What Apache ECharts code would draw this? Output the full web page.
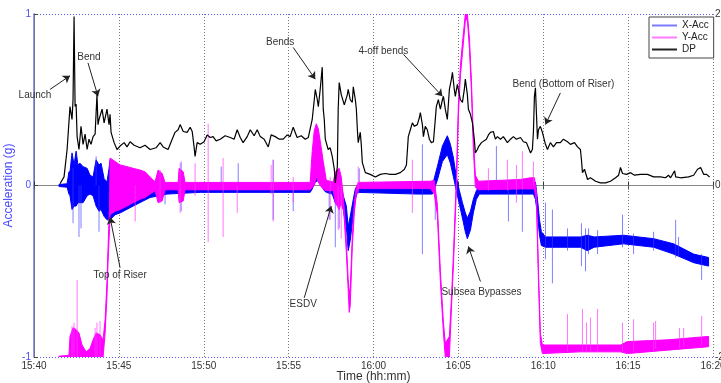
<!DOCTYPE html>
<html>
<head>
<meta charset="utf-8">
<script src="https://cdn.jsdelivr.net/npm/echarts@6/dist/echarts.min.js"></script>
<style>
  html, body { margin: 0; padding: 0; background: #fff; }
  #chart { width: 721px; height: 383px; }
</style>
</head>
<body>
<div id="chart"></div>
<script>
// time is minutes after 15:40
const tickLabels = ['15:40', '15:45', '15:50', '15:55', '16:00', '16:05', '16:10', '16:15', '16:20'];

// X-Acc noise envelope [t, low, high] (g)
const xAccBand = [
  [1.47, -0.006, 0.006], [1.95, -0.01, 0.01], [2.06, -0.05, 0.08], [2.12, -0.06, 0.08],
  [2.24, -0.14, 0.19], [2.36, -0.12, 0.12], [2.48, -0.12, 0.2], [2.59, -0.1, 0.12],
  [2.71, -0.1, 0.13], [2.89, -0.1, 0.11], [3.13, -0.06, 0.1], [3.3, -0.05, 0.06],
  [3.48, -0.06, 0.05], [3.66, -0.12, 0.15], [3.83, -0.15, 0.12], [3.95, -0.14, 0.13],
  [4.13, -0.18, 0.04], [4.3, -0.2, 0.02], [4.42, -0.2, 0.1], [4.48, -0.2, 0.15],
  [4.78, -0.17, 0.1], [5.07, -0.16, 0.08], [5.84, -0.12, 0.06], [6.84, -0.07, 0.03],
  [7.84, -0.05, 0.01], [9.79, -0.04, 0.0], [12.9, -0.04, -0.005], [16.27, -0.04, 0.0],
  [16.39, -0.02, 0.08], [16.57, 0.02, 0.13], [16.75, 0.03, 0.15], [16.92, 0.0, 0.12],
  [17.1, -0.03, 0.05], [17.22, -0.04, 0.0], [17.57, -0.05, -0.01], [17.75, -0.1, 0.0],
  [17.92, -0.12, 0.02], [18.1, -0.1, 0.0], [18.22, -0.14, -0.06], [18.4, -0.24, -0.12],
  [18.51, -0.38, -0.24], [18.63, -0.32, -0.18], [18.81, -0.17, -0.08], [18.93, -0.08, -0.02],
  [19.05, -0.04, 0.0], [22.6, -0.05, -0.01], [23.35, -0.05, -0.01], [23.47, -0.05, 0.0],
  [23.76, 0.03, 0.11], [24.06, 0.14, 0.23], [24.35, 0.18, 0.29], [24.53, 0.13, 0.24],
  [24.71, 0.05, 0.16], [24.88, -0.03, 0.05], [25.06, -0.11, -0.03], [25.24, -0.19, -0.1],
  [25.41, -0.27, -0.16], [25.53, -0.31, -0.19], [25.71, -0.26, -0.15], [25.88, -0.16, -0.08],
  [26.06, -0.08, -0.03], [26.24, -0.05, 0.0], [29.42, -0.05, 0.0], [29.54, -0.08, 0.02],
  [29.66, -0.17, -0.08], [29.78, -0.29, -0.2], [29.89, -0.35, -0.27], [30.13, -0.36, -0.3],
  [32.19, -0.36, -0.3], [32.6, -0.38, -0.29], [33.0, -0.36, -0.3], [34.73, -0.34, -0.29],
  [36.5, -0.36, -0.31], [37.68, -0.4, -0.34], [38.86, -0.45, -0.4], [39.74, -0.47, -0.42]
];

// X-Acc spikes [t, low, high]
const xAccSpikes = [
  [2.3, -0.22, 0.1], [2.65, -0.3, 0], [2.77, -0.25, 0], [3.66, 0, 0.17], [3.83, -0.27, 0],
  [7.72, -0.11, 0], [8.67, -0.15, 0.14], [11.03, 0, 0.11], [12.03, -0.03, 0.13],
  [14.09, -0.2, 0.15], [15.27, -0.15, 0], [17.39, -0.2, 0], [17.75, -0.36, 0],
  [17.98, -0.25, 0], [19.16, 0, 0.1], [22.88, -0.4, 0.24], [23.64, -0.2, 0],
  [27.24, 0, 0.23], [27.95, -0.21, 0], [28.77, -0.27, 0], [30.13, -0.43, -0.1],
  [30.54, -0.57, -0.14], [31.43, -0.38, -0.25], [32.25, -0.47, -0.22], [32.49, -0.5, -0.25],
  [32.67, -0.4, -0.25], [33.2, -0.4, -0.26], [34.67, -0.36, -0.17], [35.32, -0.4, -0.28],
  [36.5, -0.38, -0.27], [37.8, -0.42, -0.2], [37.97, -0.41, -0.3], [39.33, -0.55, -0.4]
];

// Y-Acc noise envelope [t, low, high] (g)
const yAccBand = [
  [1.47, -1, -0.995], [2.06, -1, -0.99], [2.12, -1, -0.88], [2.3, -1, -0.83],
  [2.48, -1, -0.84], [2.65, -1, -0.86], [2.83, -1, -0.93], [3.07, -1, -0.97],
  [3.3, -1, -0.95], [3.48, -1, -0.9], [3.66, -1, -0.86], [3.89, -1, -0.87],
  [4.07, -1, -0.9], [4.19, -0.86, -0.78], [4.3, -0.64, -0.56], [4.36, -0.45, -0.37],
  [4.45, -0.25, -0.12], [4.48, -0.17, 0.16], [4.78, -0.15, 0.14], [5.07, -0.14, 0.12],
  [5.48, -0.12, 0.11], [5.84, -0.1, 0.1], [6.25, -0.08, 0.09], [6.54, -0.07, 0.08],
  [6.84, -0.05, 0.05], [7.13, -0.03, 0.02], [7.31, -0.1, 0.09], [7.55, -0.09, 0.07],
  [7.72, -0.025, 0.018], [8.49, -0.025, 0.018], [8.55, -0.1, 0.1], [8.79, -0.09, 0.08],
  [8.9, -0.025, 0.018], [16.27, -0.025, 0.018], [16.39, -0.01, 0.2], [16.51, 0.0, 0.32],
  [16.63, 0.05, 0.36], [16.75, 0.02, 0.33], [16.86, 0.0, 0.26], [17.04, -0.02, 0.14],
  [17.22, -0.03, 0.03], [17.63, -0.03, 0.02], [17.75, -0.1, 0.08], [17.98, -0.14, 0.1],
  [18.1, -0.1, 0.05], [18.22, -0.14, -0.06], [18.28, -0.2, -0.14], [18.4, -0.39, -0.33],
  [18.51, -0.61, -0.55], [18.57, -0.74, -0.62], [18.63, -0.7, -0.6], [18.75, -0.36, -0.3],
  [18.87, -0.16, -0.1], [18.99, -0.05, -0.01], [19.1, -0.018, 0.018], [23.35, -0.018, 0.025],
  [23.58, -0.05, 0.03], [23.76, -0.17, -0.11], [23.94, -0.56, -0.5], [24.12, -0.86, -0.8],
  [24.23, -1, -0.92], [24.47, -1, -0.88], [24.59, -0.72, -0.66], [24.71, -0.46, -0.4],
  [24.88, -0.03, 0.03], [25.0, 0.41, 0.47], [25.12, 0.64, 0.7], [25.24, 0.77, 0.83],
  [25.41, 0.96, 1.0], [25.53, 0.97, 1.0], [25.65, 0.8, 0.86], [25.77, 0.55, 0.61],
  [25.88, 0.22, 0.28], [26.0, -0.01, 0.06], [26.18, -0.025, 0.025], [28.66, -0.02, 0.035],
  [29.25, -0.02, 0.045], [29.48, -0.02, 0.045], [29.6, -0.1, -0.04], [29.72, -0.56, -0.5],
  [29.83, -0.92, -0.86], [29.95, -0.98, -0.93], [32.19, -0.97, -0.93], [34.55, -0.97, -0.93],
  [34.96, -0.98, -0.91], [37.32, -0.96, -0.9], [39.74, -0.94, -0.88]
];

// Y-Acc spikes [t, low, high]
const yAccSpikes = [
  [2.24, -1, -0.82], [2.36, -1, -0.8], [2.54, -1, -0.55], [3.6, -1, -0.83], [3.71, -1, -0.8],
  [3.89, -1, -0.79], [5.96, -0.21, 0], [7.43, -0.1, 0.09], [8.61, -0.16, 0.13],
  [9.49, -0.06, 0.13], [10.26, -0.33, 0.36], [11.14, -0.3, 0.16], [11.97, -0.16, 0],
  [13.97, -0.05, 0.12], [14.09, -0.21, 0.15], [15.27, -0.1, 0.05], [17.45, -0.2, 0.05],
  [17.92, -0.26, 0], [18.1, -0.31, 0], [19.1, -0.05, 0.11], [22.29, -0.16, 0.15],
  [26.77, -0.03, 0.1], [27.89, -0.03, 0.15], [28.42, -0.1, 0.12], [28.77, -0.02, 0.2],
  [29.42, 0, 0.14], [31.43, -0.97, -0.75], [32.31, -0.97, -0.72], [32.55, -0.97, -0.8],
  [32.78, -0.97, -0.77], [33.2, -0.97, -0.72], [34.67, -0.97, -0.8], [35.32, -0.97, -0.78],
  [36.5, -0.97, -0.8], [36.62, -0.95, -0.79], [38.03, -0.95, -0.83], [38.27, -0.94, -0.83],
  [39.33, -0.93, -0.76]
];

// DP [t, value]
const dpValues = [
  [1.53, 0.02], [1.77, 0.1], [1.95, 0.42], [2.12, 0.92], [2.24, 0.77], [2.3, 1.0], [2.36, 1.97],
  [2.42, 0.92], [2.48, 0.95], [2.54, 0.57], [2.65, 0.42], [2.77, 0.69], [2.89, 0.48], [3.01, 0.6],
  [3.13, 0.42], [3.24, 0.54], [3.36, 0.48], [3.48, 0.57], [3.6, 0.6], [3.71, 1.06], [3.77, 0.71],
  [3.83, 0.77], [4.01, 0.89], [4.13, 0.73], [4.3, 0.89], [4.42, 0.71], [4.48, 0.83], [4.54, 0.62],
  [4.72, 0.5], [4.89, 0.42], [5.07, 0.46], [5.31, 0.5], [5.48, 0.45], [5.66, 0.51], [5.9, 0.47],
  [6.25, 0.44], [6.54, 0.47], [6.84, 0.42], [7.19, 0.44], [7.43, 0.5], [7.61, 0.45], [7.9, 0.42],
  [8.14, 0.54], [8.31, 0.62], [8.49, 0.65], [8.61, 0.71], [8.79, 0.63], [9.02, 0.62], [9.2, 0.68],
  [9.32, 0.63], [9.43, 0.45], [9.49, 0.34], [9.61, 0.5], [9.79, 0.48], [10.02, 0.51], [10.2, 0.59],
  [10.38, 0.56], [10.55, 0.57], [10.73, 0.52], [10.97, 0.54], [11.26, 0.58], [11.56, 0.56],
  [11.79, 0.54], [11.97, 0.65], [12.15, 0.56], [12.32, 0.5], [12.56, 0.57], [12.74, 0.65],
  [12.97, 0.58], [13.15, 0.65], [13.33, 0.57], [13.56, 0.54], [13.8, 0.45], [13.97, 0.59],
  [14.21, 0.57], [14.45, 0.54], [14.68, 0.54], [14.92, 0.59], [15.09, 0.57], [15.27, 0.68],
  [15.5, 0.56], [15.74, 0.58], [15.98, 0.54], [16.16, 0.56], [16.27, 0.54], [16.39, 0.77],
  [16.51, 1.0], [16.57, 1.12], [16.69, 1.0], [16.75, 0.92], [16.86, 1.12], [16.98, 1.38],
  [17.04, 0.89], [17.1, 0.77], [17.16, 0.54], [17.33, 0.42], [17.45, 0.44], [17.57, 0.34],
  [17.69, 0.19], [17.75, 0.03], [17.87, 0.22], [17.92, 0.89], [17.98, 1.2], [18.1, 1.06],
  [18.16, 1.08], [18.28, 0.94], [18.34, 0.92], [18.46, 1.06], [18.51, 1.12], [18.63, 1.0],
  [18.75, 0.97], [18.81, 1.15], [18.93, 1.0], [18.99, 0.89], [19.05, 0.65], [19.1, 0.5],
  [19.22, 0.62], [19.28, 0.48], [19.34, 0.27], [19.52, 0.15], [19.81, 0.13], [20.11, 0.1],
  [20.4, 0.13], [20.7, 0.14], [20.99, 0.13], [21.29, 0.13], [21.58, 0.15], [21.82, 0.19],
  [21.94, 0.24], [22.05, 0.57], [22.17, 0.65], [22.29, 0.73], [22.41, 0.69], [22.58, 0.71],
  [22.7, 0.79], [22.76, 0.85], [22.88, 0.71], [22.94, 0.57], [23.05, 0.69], [23.17, 0.65],
  [23.29, 0.54], [23.41, 0.5], [23.53, 0.51], [23.64, 0.77], [23.7, 0.92], [23.82, 1.0],
  [23.94, 0.89], [24.06, 1.0], [24.12, 1.04], [24.23, 0.89], [24.35, 0.77], [24.47, 1.12],
  [24.59, 1.24], [24.65, 1.32], [24.76, 1.12], [24.82, 1.04], [24.94, 1.18], [25.0, 1.2],
  [25.12, 1.0], [25.24, 0.97], [25.35, 1.12], [25.41, 1.24], [25.53, 1.06], [25.59, 0.89],
  [25.71, 0.83], [25.83, 0.73], [25.94, 0.54], [26.0, 0.38], [26.12, 0.42], [26.18, 0.45],
  [26.36, 0.5], [26.47, 0.51], [26.65, 0.54], [26.77, 0.59], [26.89, 0.62], [27.06, 0.63],
  [27.18, 0.54], [27.3, 0.57], [27.48, 0.54], [27.65, 0.57], [27.89, 0.5], [28.07, 0.54],
  [28.24, 0.57], [28.42, 0.54], [28.66, 0.56], [28.83, 0.51], [29.01, 0.5], [29.13, 0.44],
  [29.25, 0.38], [29.36, 0.42], [29.42, 0.62], [29.48, 1.04], [29.54, 1.14], [29.6, 0.83],
  [29.66, 0.54], [29.72, 0.65], [29.83, 0.69], [29.95, 0.62], [30.01, 0.6], [30.13, 0.48],
  [30.25, 0.42], [30.42, 0.5], [30.6, 0.45], [30.78, 0.5], [31.01, 0.5], [31.19, 0.54],
  [31.43, 0.51], [31.6, 0.48], [31.84, 0.5], [32.02, 0.45], [32.19, 0.42], [32.25, 0.3],
  [32.31, 0.15], [32.43, 0.19], [32.61, 0.07], [32.78, 0.09], [33.08, 0.05], [33.37, 0.03],
  [33.67, 0.03], [33.96, 0.05], [34.26, 0.09], [34.44, 0.12], [34.55, 0.21], [34.67, 0.14],
  [34.91, 0.13], [35.14, 0.15], [35.38, 0.12], [35.73, 0.13], [36.14, 0.13], [36.5, 0.1],
  [36.91, 0.1], [37.2, 0.09], [37.38, 0.12], [37.5, 0.09], [37.74, 0.17], [37.8, 0.1],
  [38.09, 0.09], [38.56, 0.1], [38.86, 0.12], [39.09, 0.19], [39.27, 0.21], [39.45, 0.13],
  [39.62, 0.13], [39.8, 0.1]
];

// annotations, in DP axis units: label centre, arrow tail, arrow head
const noteTexts = ['Launch', 'Bend', 'Bends', '4-off bends', 'Bend (Bottom of Riser)', 'Top of Riser', 'ESDV', 'Subsea Bypasses'];
const noteAt = [[0.06, 1.05], [3.24, 1.5], [14.5, 1.67], [20.58, 1.57], [31.19, 1.18], [5.07, -1.05], [15.86, -1.39], [26.36, -1.24]];
const noteFrom = [[0.94, 1.12], [3.18, 1.43], [15.27, 1.61], [21.76, 1.53], [31.01, 1.08], [5.07, -0.96], [15.92, -1.31], [26.3, -1.12]];
const noteTo = [[2.12, 1.28], [3.77, 1.04], [16.57, 1.24], [24.06, 1.04], [30.13, 0.71], [4.48, -0.37], [17.51, -0.24], [25.59, -0.71]];

const FONT = 'Liberation Sans';

function bandSeries(name, band, color) {
  return {
    name: name,
    type: 'custom',
    coordinateSystem: 'cartesian2d',
    yAxisIndex: 0,
    clip: true,
    silent: true,
    data: band,
    encode: { x: 0, y: [1, 2] },
    renderItem: function (params, api) {
      if (params.dataIndex !== 0) return;
      const top = band.map(d => api.coord([d[0], d[2]]));
      const bot = band.slice().reverse().map(d => api.coord([d[0], d[1]]));
      return {
        type: 'polygon',
        shape: { points: top.concat(bot) },
        style: { fill: color, stroke: color, lineWidth: 1 }
      };
    }
  };
}

function spikeSeries(name, spikes, color) {
  return {
    name: name,
    type: 'custom',
    coordinateSystem: 'cartesian2d',
    yAxisIndex: 0,
    clip: true,
    silent: true,
    data: spikes,
    encode: { x: 0, y: [1, 2] },
    renderItem: function (params, api) {
      const a = api.coord([api.value(0), api.value(1)]);
      const b = api.coord([api.value(0), api.value(2)]);
      return {
        type: 'line',
        shape: { x1: a[0], y1: a[1], x2: b[0], y2: b[1] },
        style: { stroke: color, lineWidth: 1 }
      };
    }
  };
}

const chart = echarts.init(document.getElementById('chart'));

chart.setOption({
  animation: false,
  backgroundColor: '#fff',
  textStyle: { fontFamily: FONT },
  grid: { left: 34, right: 8, top: 14, bottom: 26, outerBoundsMode: 'none', containLabel: false },
  legend: {
    orient: 'vertical',
    left: 649,
    top: 17,
    padding: [3, 5, 3, 3],
    itemGap: 1,
    itemWidth: 25,
    itemHeight: 2,
    borderColor: '#444',
    borderWidth: 1,
    borderRadius: 0,
    backgroundColor: '#fff',
    selectedMode: false,
    textStyle: { fontSize: 10, color: '#222', lineHeight: 11, fontFamily: FONT },
    data: [
      { name: 'X-Acc', icon: 'rect', itemStyle: { color: '#7a7aff' } },
      { name: 'Y-Acc', icon: 'rect', itemStyle: { color: '#ff7aff' } },
      { name: 'DP', icon: 'rect', itemStyle: { color: '#222' } }
    ]
  },
  xAxis: [
    {
      type: 'value',
      position: 'bottom',
      min: 0,
      max: 40,
      interval: 5,
      name: 'Time (hh:mm)',
      nameLocation: 'middle',
      nameGap: 14,
      nameMoveOverlap: false,
      nameTextStyle: { fontSize: 12, color: '#333', fontFamily: FONT },
      axisLine: { lineStyle: { color: '#555', width: 1 } },
      axisTick: { inside: true, length: 4, lineStyle: { color: '#333' } },
      axisLabel: {
        fontSize: 10, color: '#333', margin: 4, fontFamily: FONT,
        formatter: v => tickLabels[Math.round(v / 5)]
      },
      splitLine: { show: true, lineStyle: { color: '#777', type: [1, 2], width: 1 } }
    },
    {
      type: 'value',
      position: 'top',
      min: 0,
      max: 40,
      interval: 5,
      axisLine: { lineStyle: { color: '#888', width: 1 } },
      axisTick: { inside: true, length: 4, lineStyle: { color: '#555' } },
      axisLabel: { show: false },
      splitLine: { show: false }
    }
  ],
  yAxis: [
    {
      type: 'value',
      position: 'left',
      min: -1,
      max: 1,
      interval: 1,
      name: 'Acceleration (g)',
      nameLocation: 'middle',
      nameGap: 19,
      nameMoveOverlap: false,
      nameTextStyle: { fontSize: 12, color: '#4a4aff', fontFamily: FONT },
      axisLine: { show: true, lineStyle: { color: '#7070ff', width: 1.5 } },
      axisTick: { show: true, inside: true, length: 4, lineStyle: { color: '#5050ff' } },
      axisLabel: { fontSize: 10, color: '#4a4aff', margin: 3, fontFamily: FONT },
      splitLine: { show: true, lineStyle: { color: '#5a5aff', type: [1, 2], width: 1 } }
    },
    {
      type: 'value',
      position: 'right',
      min: -2,
      max: 2,
      interval: 2,
      axisLine: { show: true, lineStyle: { color: '#777', width: 1 } },
      axisTick: { show: true, length: 4, lineStyle: { color: '#444' } },
      axisLabel: { fontSize: 10, color: '#333', margin: 2, fontFamily: FONT },
      splitLine: { show: false }
    }
  ],
  series: [
    bandSeries('X-Acc', xAccBand, '#0000ff'),
    spikeSeries('X-Acc', xAccSpikes, 'rgba(60,60,255,0.65)'),
    bandSeries('Y-Acc', yAccBand, '#ff00ff'),
    spikeSeries('Y-Acc', yAccSpikes, 'rgba(255,60,255,0.7)'),
    {
      name: 'DP',
      type: 'line',
      yAxisIndex: 1,
      data: dpValues,
      showSymbol: false,
      symbol: 'none',
      lineStyle: { color: '#000', width: 1.2 },
      itemStyle: { color: '#000' },
      silent: true,
      z: 5,
      markLine: {
        silent: true,
        symbol: ['none', 'arrow'],
        symbolSize: 7,
        label: { show: false },
        lineStyle: { color: '#222', width: 1, type: 'solid' },
        emphasis: { disabled: true },
        data: noteFrom.map((f, i) => [{ coord: f }, { coord: noteTo[i] }])
      },
      markPoint: {
        silent: true,
        symbol: 'circle',
        symbolSize: 1,
        itemStyle: { color: 'rgba(0,0,0,0)' },
        label: {
          show: true,
          position: 'inside',
          formatter: p => p.name,
          fontSize: 10,
          color: '#333',
          fontFamily: FONT
        },
        data: noteTexts.map((t, i) => ({ name: t, coord: noteAt[i] }))
      }
    }
  ]
});
</script>
</body>
</html>
